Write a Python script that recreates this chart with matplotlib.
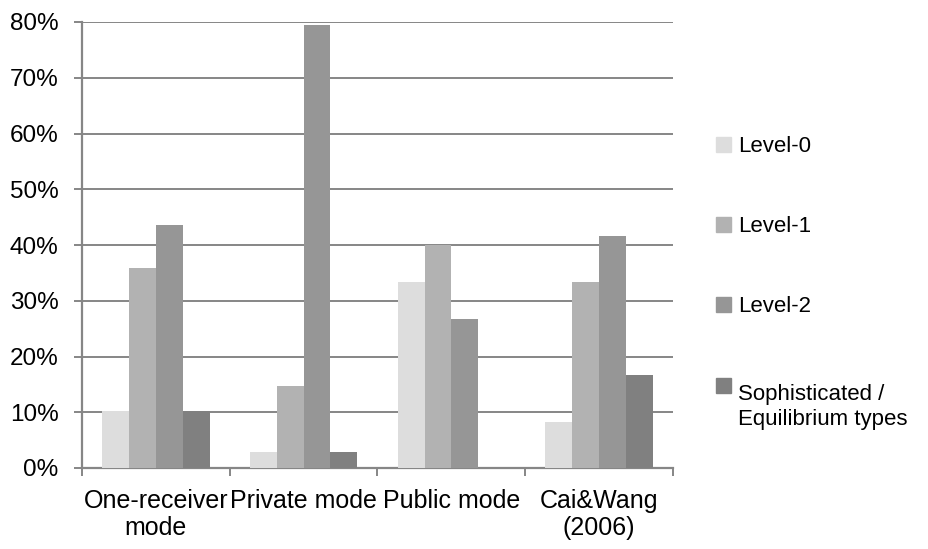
import matplotlib.pyplot as plt
import numpy as np
from matplotlib.patches import Rectangle
from matplotlib.ticker import PercentFormatter, FixedLocator

plt.rcParams['font.family'] = ['Liberation Sans', 'DejaVu Sans']

categories = ["One-receiver\nmode", "Private mode", "Public mode", "Cai&Wang\n(2006)"]
series_names = ["Level-0", "Level-1", "Level-2", "Sophisticated /\nEquilibrium types"]
level0 = [10.3, 2.9, 33.3, 8.3]
level1 = [35.9, 14.7, 40.0, 33.3]
level2 = [43.6, 79.4, 26.7, 41.7]
sophisticated = [10.3, 2.9, 0.0, 16.7]
colors = ["#dddddd", "#b2b2b2", "#969696", "#808080"]

W, H = 929, 549
fig = plt.figure(figsize=(W / 100, H / 100), dpi=100)
ax = fig.add_axes([82 / W, (H - 468) / H, 591 / W, 446 / H])

x = np.arange(len(categories))
w = 0.1816
for i, (vals, name) in enumerate(zip([level0, level1, level2, sophisticated], series_names)):
    ax.bar(x + (i - 1.5) * w, vals, w, color=colors[i], label=name, zorder=3)

grid_c = "#868686"
ax.set_ylim(0, 80)
ax.set_xlim(-0.5, 3.5)
ax.set_yticks(np.arange(0, 81, 10))
ax.yaxis.set_major_formatter(PercentFormatter(decimals=0))
ax.grid(axis='y', color=grid_c, linewidth=1.4, zorder=0)

ax.set_xticks(x)
ax.set_xticklabels(categories, linespacing=1.15)
ax.xaxis.set_minor_locator(FixedLocator(np.arange(-0.5, 4, 1)))
ax.tick_params(axis='x', which='major', length=0, pad=15, labelsize=18)
ax.tick_params(axis='x', which='minor', length=6, color=grid_c, width=1.4)
ax.tick_params(axis='y', length=6, color=grid_c, width=1.4, labelsize=17.5, pad=11)

for s in ['top', 'right']:
    ax.spines[s].set_visible(False)
for s in ['left', 'bottom']:
    ax.spines[s].set_color(grid_c)
    ax.spines[s].set_linewidth(1.6)

# legend drawn by hand so the square sits on the first text line
baselines = [152, 232, 312, 393]
line_step = 32
for name, c, yb in zip(series_names, colors, baselines):
    fig.patches.append(Rectangle((716 / W, (H - yb) / H), 15 / W, 15 / H,
                                 transform=fig.transFigure, color=c))
    y_last = yb + line_step * name.count("\n")
    fig.text(738 / W, (H - y_last) / H, name, fontsize=16, va='baseline',
             ha='left', linespacing=1.25)

fig.savefig("out.png", dpi=100)
